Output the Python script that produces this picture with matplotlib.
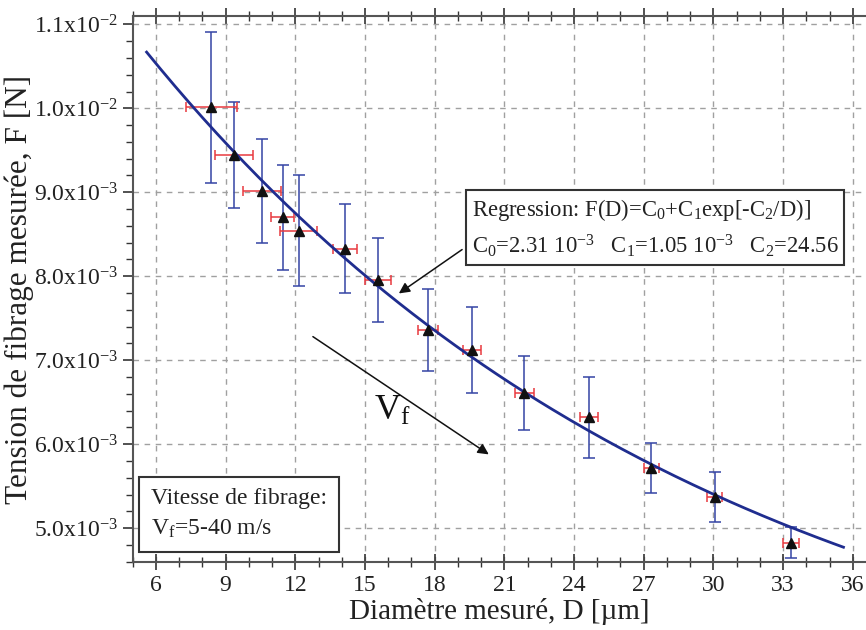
import numpy as np
import matplotlib
matplotlib.use("Agg")
import matplotlib.pyplot as plt
from matplotlib.ticker import FixedLocator, FixedFormatter, MultipleLocator

# 폰트 설정 (serif)
plt.rcParams["font.family"] = ["Liberation Serif", "DejaVu Serif"]
plt.rcParams["mathtext.fontset"] = "custom"
plt.rcParams["mathtext.rm"] = "Liberation Serif"
plt.rcParams["mathtext.it"] = "Liberation Serif:italic"

# 측정 데이터
diametre = [8.39, 9.35, 10.58, 11.46, 12.15, 14.15, 15.57, 17.73, 19.61, 21.86, 24.65, 27.33, 30.05, 33.33]
tension = [10.01e-3, 9.44e-3, 9.02e-3, 8.70e-3, 8.54e-3, 8.33e-3, 7.96e-3, 7.36e-3, 7.12e-3, 6.61e-3, 6.32e-3, 5.72e-3, 5.37e-3, 4.83e-3]
err_tension = [0.90e-3, 0.63e-3, 0.62e-3, 0.62e-3, 0.66e-3, 0.53e-3, 0.50e-3, 0.49e-3, 0.515e-3, 0.44e-3, 0.485e-3, 0.30e-3, 0.30e-3, 0.19e-3]
err_diametre = [1.09, 0.81, 0.81, 0.50, 0.80, 0.52, 0.56, 0.43, 0.40, 0.40, 0.40, 0.32, 0.34, 0.35]

# 회귀 곡선 파라미터
C0 = 2.31e-3
C1 = 1.05e-2
C2 = 24.56
d_min, d_max = 5.6, 35.6

# 축 눈금 라벨
y_ticks = [5e-3, 6e-3, 7e-3, 8e-3, 9e-3, 1.0e-2, 1.1e-2]
y_labels = ["5.0x10$^{-3}$", "6.0x10$^{-3}$", "7.0x10$^{-3}$", "8.0x10$^{-3}$",
            "9.0x10$^{-3}$", "1.0x10$^{-2}$", "1.1x10$^{-2}$"]
x_ticks = [6, 9, 12, 15, 18, 21, 24, 27, 30, 33, 36]

fig = plt.figure(figsize=(8.66, 6.3), dpi=100)
ax = fig.add_axes([0.1532, 0.1075, 0.8468, 0.8671])

# 회귀 곡선
d = np.linspace(d_min, d_max, 200)
ax.plot(d, C0 + C1 * np.exp(-d / C2), color="#1f2d8f", lw=2.0, zorder=3)

# 오차 막대 (세로: 파랑, 가로: 빨강)
ax.errorbar(diametre, tension, yerr=err_tension, fmt="none", ecolor="#3545a5",
            elinewidth=1.3, capsize=4, capthick=1.3, alpha=0.85, zorder=2)
ax.errorbar(diametre, tension, xerr=err_diametre, fmt="none", ecolor="#e83a40",
            elinewidth=1.3, capsize=3.5, capthick=1.3, alpha=0.85, zorder=2)
ax.plot(diametre, tension, "^", color="#111111", markersize=6.5, zorder=4)

ax.set_xlim(5, 36.57)
ax.set_ylim(4.595e-3, 1.1099e-2)

ax.xaxis.set_major_locator(FixedLocator(x_ticks))
ax.xaxis.set_minor_locator(MultipleLocator(1))
ax.yaxis.set_major_locator(FixedLocator(y_ticks))
ax.yaxis.set_major_formatter(FixedFormatter(y_labels))
ax.yaxis.set_minor_locator(MultipleLocator(2e-4))

ax.tick_params(axis="x", which="both", direction="inout", top=True, labelsize=17, colors="#333333")
ax.tick_params(axis="x", which="major", length=12, width=1.2)
ax.tick_params(axis="x", which="minor", length=7, width=1.0)
ax.tick_params(axis="y", which="both", direction="out", labelsize=17, colors="#333333")
ax.tick_params(axis="y", which="major", length=7, width=1.2)
ax.tick_params(axis="y", which="minor", length=5, width=1.0)
ax.tick_params(labelcolor="#222222")

for s in ["left", "bottom", "top"]:
    ax.spines[s].set_color("#555555")
    ax.spines[s].set_linewidth(1.5)
ax.spines["right"].set_visible(False)

ax.grid(True, which="major", color="#a0a0a0", linestyle=(0, (4, 4)), linewidth=1.0)
ax.set_axisbelow(True)

ax.set_xlabel("Diamètre mesuré, D [µm]", fontsize=21, color="#222222", labelpad=1)
ax.set_ylabel("Tension de fibrage mesurée, F [N]", fontsize=22.5, color="#222222", labelpad=0)

# 회귀식 박스
fig.text(472 / 866, 1 - 228 / 630,
         "Regression: F(D)=C$_0$+C$_1$exp[-C$_2$/D)]\nC$_0$=2.31 10$^{-3}$   C$_1$=1.05 10$^{-3}$   C$_2$=24.56",
         fontsize=16.3, color="#222222", va="center", ha="left", linespacing=1.5,
         bbox=dict(boxstyle="square,pad=0.25", fc="white", ec="#333333", lw=1.5))

# 방사 속도 박스
fig.text(151 / 866, 1 - 514 / 630, "Vitesse de fibrage:\nV$_\\mathrm{f}$=5-40 m/s",
         fontsize=17, color="#222222", va="center", ha="left", linespacing=1.5,
         bbox=dict(boxstyle="square,pad=0.5", fc="white", ec="#333333", lw=1.5))

# 화살표
ax.annotate("", xy=(16.36, 7.777e-3), xytext=(19.28, 8.337e-3),
            arrowprops=dict(arrowstyle="-|>", color="#111111", lw=1.1, mutation_scale=16))
ax.annotate("", xy=(20.43, 5.861e-3), xytext=(12.66, 7.30e-3),
            arrowprops=dict(arrowstyle="-|>", color="#111111", lw=1.1, mutation_scale=16))
ax.text(15.4, 6.29e-3, "V$_\\mathrm{f}$", fontsize=26, color="#111111")

plt.savefig("out.png", dpi=100)
